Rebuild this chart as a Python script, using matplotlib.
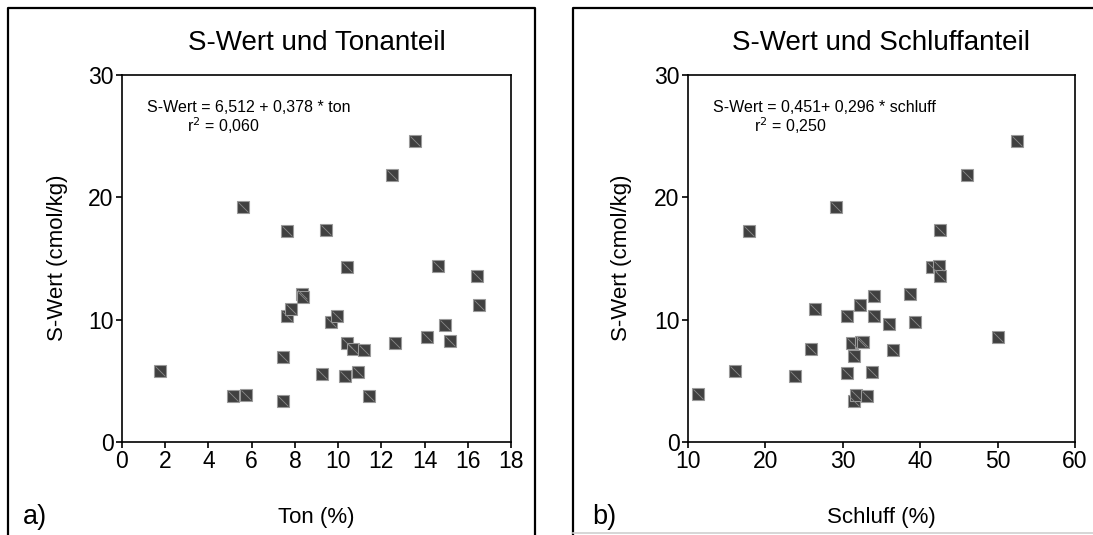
import matplotlib.pyplot as plt
from matplotlib.path import Path
from matplotlib.lines import Line2D

plt.rcParams['font.family'] = ['Liberation Sans', 'DejaVu Sans']

# S-Wert (cmol/kg) vs Ton (%)
ton = [1.76, 5.15, 5.72, 5.59, 7.45, 7.45, 7.62, 7.62, 7.83, 8.33, 8.39,
       9.24, 9.42, 9.69, 9.94, 10.39, 10.39, 10.31, 10.71, 10.90, 11.20,
       11.41, 12.48, 12.63, 13.54, 14.10, 14.61, 14.95, 15.19, 16.42, 16.53]
swert_ton = [5.83, 3.76, 3.88, 19.19, 3.34, 6.96, 17.27, 10.27, 10.90, 12.11, 11.89,
             5.58, 17.35, 9.85, 10.27, 14.29, 8.12, 5.38, 7.64, 5.69, 7.53,
             3.74, 21.82, 8.12, 24.57, 8.58, 14.38, 9.57, 8.24, 13.61, 11.18]

# S-Wert (cmol/kg) vs Schluff (%)
schluff = [11.23, 16.01, 17.83, 23.84, 25.94, 26.39, 29.17, 30.49, 30.58, 31.13, 31.49,
           31.49, 31.77, 32.22, 32.40, 32.63, 33.13, 33.77, 34.00, 34.00, 36.00,
           36.50, 38.64, 39.33, 41.47, 42.42, 42.56, 42.56, 46.07, 50.07, 52.53]
swert_schluff = [3.91, 5.83, 17.27, 5.38, 7.64, 10.90, 19.25, 5.60, 10.27, 8.12, 7.02,
                 3.34, 3.82, 11.18, 8.21, 8.15, 3.76, 5.75, 11.92, 10.27, 9.62,
                 7.53, 12.11, 9.85, 14.29, 14.38, 13.61, 17.35, 21.82, 8.58, 24.57]

ton_ticks = [0, 2, 4, 6, 8, 10, 12, 14, 16, 18]
schluff_ticks = [10, 20, 30, 40, 50, 60]
y_ticks = [0, 10, 20, 30]

W, H = 1093, 535
fig = plt.figure(figsize=(W / 100, H / 100), dpi=100)


# frame line in pixel coords
def fline(xs, ys, color='black', lw=1.6):
    fig.lines.append(Line2D([x / W for x in xs], [1 - y / H for y in ys],
                            transform=fig.transFigure, color=color,
                            linewidth=lw, solid_capstyle='projecting'))


# left panel frame (no bottom line)
fline([8, 8, 535, 535], [540, 8, 8, 540])
# right panel frame
fline([573, 573, 1100], [540, 8, 8])
fline([573, 1100], [533, 533], color='#d0d0d0', lw=1.2)

diag = Path([(-0.5, 0.5), (0.5, -0.5)], [Path.MOVETO, Path.LINETO])


def panel(px0, px1, x, y, xticks, xlim, title, xlabel, letter, eq, r2,
          eq_px, r2_px, ylabel_px, letter_px):
    ax = fig.add_axes([px0 / W, 1 - 442 / H, (px1 - px0) / W, (442 - 75) / H])
    ax.plot(x, y, linestyle='none', marker='s', markersize=8.3,
            markerfacecolor='#404040', markeredgecolor='#9a9a9a',
            markeredgewidth=0.8, clip_on=False)
    ax.plot(x, y, linestyle='none', marker=diag, markersize=7,
            markeredgecolor='#8a8a8a', markeredgewidth=0.6, clip_on=False)
    ax.set_xlim(xlim)
    ax.set_ylim(0, 30)
    ax.set_xticks(xticks)
    ax.set_yticks(y_ticks)
    ax.tick_params(direction='out', length=4, width=1.2, labelsize=16.5, pad=2)
    for s in ax.spines.values():
        s.set_linewidth(1.2)
    cx = (px0 + px1) / 2 / W
    fig.text(cx, 1 - 43 / H, title, ha='center', va='center', fontsize=20)
    fig.text(cx, 1 - 518 / H, xlabel, ha='center', va='center', fontsize=16)
    fig.text(ylabel_px / W, 1 - 258 / H, 'S-Wert (cmol/kg)', ha='center',
             va='center', rotation=90, fontsize=16)
    fig.text(letter_px / W, 1 - 517 / H, letter, ha='left', va='center',
             fontsize=19.5)
    fig.text(eq_px / W, 1 - 108 / H, eq, ha='left', va='center', fontsize=11.5)
    fig.text(r2_px / W, 1 - 126 / H, r2, ha='left', va='center', fontsize=11.5)
    return ax


panel(122, 511, ton, swert_ton, ton_ticks, (0, 18), 'S-Wert und Tonanteil',
      'Ton (%)', 'a)', 'S-Wert = 6,512 + 0,378 * ton', r'r$^2$ = 0,060',
      147, 187, 57, 23)
panel(688, 1075, schluff, swert_schluff, schluff_ticks, (10, 60),
      'S-Wert und Schluffanteil', 'Schluff (%)', 'b)',
      'S-Wert = 0,451+ 0,296 * schluff', r'r$^2$ = 0,250',
      713, 754, 621, 592)

fig.savefig('out.png', dpi=100)
